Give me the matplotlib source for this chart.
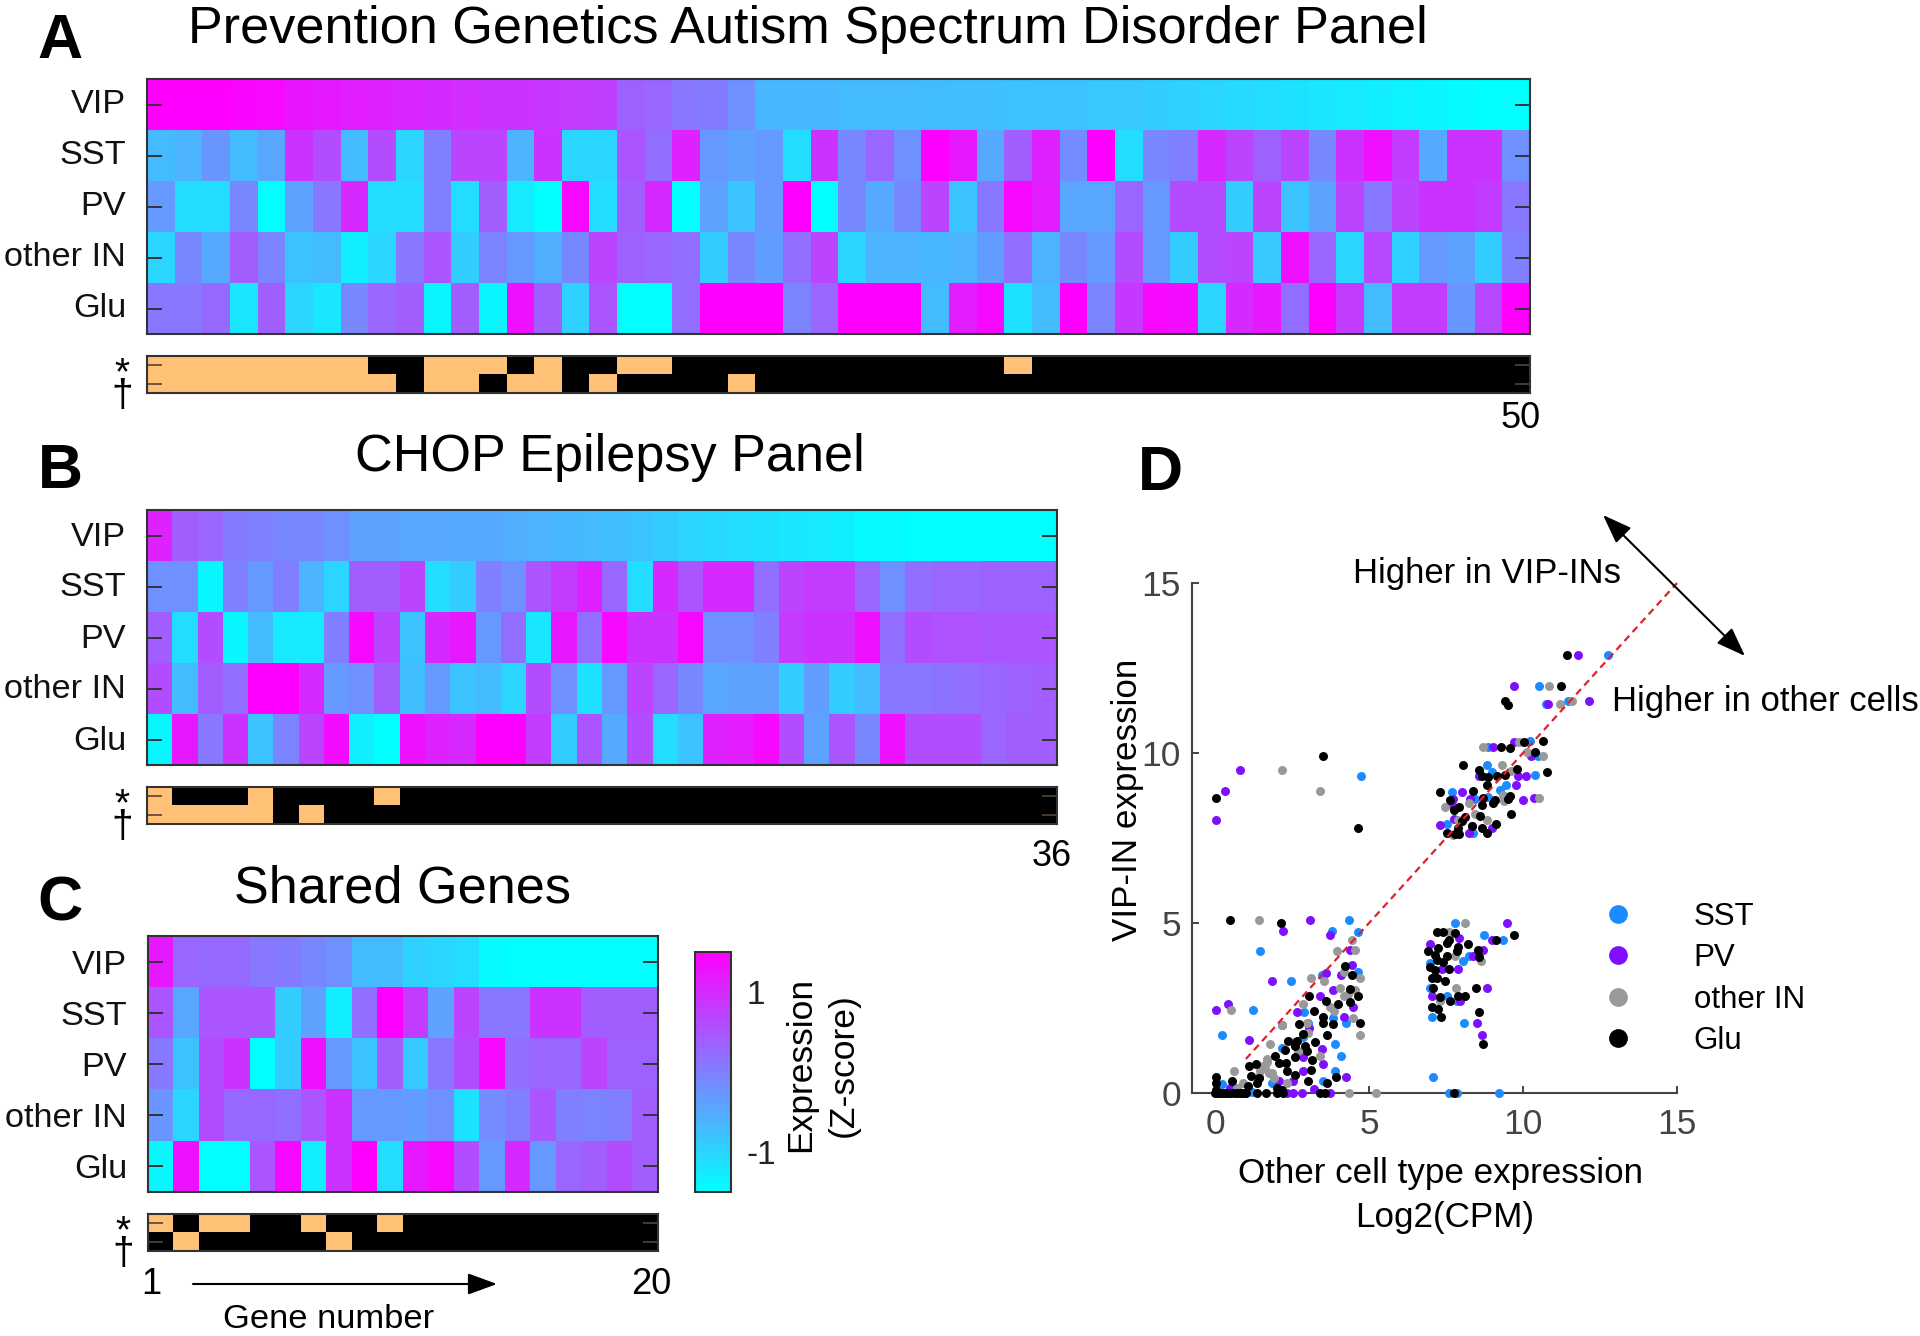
import matplotlib
matplotlib.use("Agg")
import matplotlib.pyplot as plt
from matplotlib.colors import ListedColormap
from matplotlib.lines import Line2D
from matplotlib.transforms import ScaledTranslation
import numpy as np

plt.rcParams['font.family'] = ['Liberation Sans', 'DejaVu Sans']

W, H = 1920, 1336
ROWS = ['VIP', 'SST', 'PV', 'other IN', 'Glu']
FLAGS = ['*', '†']

# ---------- Panel A ----------
A_VIP = [1.5,1.5,1.5,1.45,1.4,1.25,1.2,1.15,1.1,1.05,1.0,0.95,0.9,0.9,0.85,0.8,0.75,0.35,0.3,0.1,0.05,-0.2,
         -0.65,-0.65,-0.65,-0.7,-0.7,-0.7,-0.72,-0.75,-0.75,-0.78,-0.8,-0.8,-0.85,-0.85,-0.9,-0.95,-1.0,-1.05,
         -1.1,-1.15,-1.2,-1.25,-1.3,-1.35,-1.4,-1.45,-1.5,-1.5]
A_SST = [-0.7,-0.6,-0.25,-0.7,-0.45,0.9,0.6,-0.7,0.6,-1.0,0.0,0.7,0.7,-0.6,0.9,-1.0,-1.0,0.5,0.2,1.1,-0.3,-0.4,-0.3,
         -1.1,0.9,-0.1,0.3,-0.2,1.5,1.2,-0.5,0.4,1.1,-0.15,1.5,-1.1,-0.1,0.0,1.0,0.7,0.35,0.7,-0.1,0.9,1.3,0.8,-0.5,0.9,0.9,-0.2]
A_PV = [-0.3,-1.1,-1.1,-0.1,-1.5,-0.4,0.1,1.0,-1.1,-1.1,0.0,-1.1,0.4,-1.25,-1.5,1.4,-1.1,0.4,1.0,-1.5,-0.4,-0.8,-0.3,1.5,
        -1.5,-0.1,-0.5,-0.1,0.7,-0.8,0.1,1.4,1.15,-0.45,-0.45,0.3,-0.3,0.6,0.6,-0.9,0.7,-0.8,-0.4,0.7,0.1,0.7,0.9,0.9,0.8,0.1]
A_OTHER = [-1.0,-0.1,-0.5,0.4,-0.05,-0.8,-0.7,-1.3,-1.0,0.1,0.5,-0.9,-0.05,-0.3,-0.55,-0.1,0.7,0.35,0.3,0.2,-0.9,-0.1,-0.35,0.2,
           0.7,-1.0,-0.6,-0.6,-0.65,-0.6,-0.35,0.2,-0.6,-0.1,-0.3,0.6,-0.3,-0.9,0.6,0.7,-0.85,1.3,0.3,-1.0,0.65,-0.95,-0.3,-0.4,-0.9,0.0]
A_GLU = [0.1,0.1,0.25,-1.2,0.4,-1.0,-1.2,-0.1,0.3,0.4,-1.4,0.4,-1.4,1.3,0.4,-0.95,0.5,-1.5,-1.5,0.2,1.5,1.5,1.5,-0.05,
         0.3,1.5,1.5,1.5,-0.7,1.15,1.4,-1.15,-0.7,1.5,-0.05,0.85,1.4,1.35,-1.0,1.0,1.2,0.2,1.5,0.8,-0.7,0.8,0.8,-0.25,0.65,1.5]
A_STAR = [1,1,1,1,1,1,1,1,0,0,1,1,1,0,1,0,0,1,1,0,0,0,0,0,0,0,0,0,0,0,0,1,0,0,0,0,0,0,0,0,0,0,0,0,0,0,0,0,0,0]
A_DAGGER = [1,1,1,1,1,1,1,1,1,0,1,1,0,1,1,0,1,0,0,0,0,1,0,0,0,0,0,0,0,0,0,0,0,0,0,0,0,0,0,0,0,0,0,0,0,0,0,0,0,0]

# ---------- Panel B ----------
B_VIP = [1.1,0.4,0.3,0.05,0.0,-0.1,-0.1,-0.2,-0.4,-0.4,-0.45,-0.45,-0.5,-0.5,-0.55,-0.6,-0.65,-0.7,-0.75,-0.8,-0.9,-1.0,-1.05,-1.1,
         -1.15,-1.2,-1.25,-1.3,-1.45,-1.45,-1.5,-1.5,-1.5,-1.5,-1.5,-1.5]
B_SST = [-0.2,-0.2,-1.4,0.0,-0.3,0.0,-0.6,-1.0,0.4,0.4,0.7,-1.1,-0.9,0.0,-0.2,0.5,0.8,1.1,0.3,-1.1,1.0,0.5,1.0,1.0,0.2,0.7,0.8,0.8,0.3,-0.2,
         0.2,0.3,0.3,0.35,0.35,0.35]
B_PV = [0.4,-1.1,0.6,-1.4,-0.7,-1.25,-1.25,0.0,1.4,0.7,-0.8,1.0,1.2,-0.3,0.2,-1.2,1.2,0.2,1.4,0.9,0.9,1.4,-0.2,-0.2,0.0,0.8,0.9,0.9,1.3,0.2,
        0.6,0.55,0.55,0.5,0.5,0.5]
B_OTHER = [0.6,-0.7,0.4,0.2,1.5,1.5,1.0,-0.3,-0.2,0.4,-0.75,-0.3,-0.8,-0.7,-1.0,0.6,-0.2,-1.15,-0.3,0.7,0.3,-0.1,-0.45,-0.4,-0.4,-0.9,-0.35,-0.9,-0.7,0.1,
           0.1,0.15,0.2,0.3,0.35,0.4]
B_GLU = [-1.4,1.2,0.1,0.9,-0.8,-0.05,0.7,1.35,-1.3,-1.5,1.3,1.1,1.0,1.5,1.5,0.8,-0.9,0.5,-0.5,0.6,-1.1,-0.8,1.1,1.15,1.4,0.6,-0.4,0.5,-0.1,1.3,
         0.6,0.6,0.6,0.3,0.4,0.4]
B_STAR = [1,0,0,0,1,0,0,0,0,1,0,0,0,0,0,0,0,0,0,0,0,0,0,0,0,0,0,0,0,0,0,0,0,0,0,0]
B_DAGGER = [1,1,1,1,1,0,1,0,0,0,0,0,0,0,0,0,0,0,0,0,0,0,0,0,0,0,0,0,0,0,0,0,0,0,0,0]

# ---------- Panel C ----------
C_VIP = [1.2,0.3,0.25,0.25,0.1,0.05,-0.1,-0.2,-0.7,-0.7,-0.95,-1.0,-1.1,-1.45,-1.5,-1.5,-1.5,-1.5,-1.5,-1.5]
C_SST = [0.5,-0.45,0.5,0.5,0.5,-0.9,-0.4,-1.3,0.2,1.5,0.8,-0.4,0.7,0.1,0.1,0.9,0.9,0.4,0.4,0.4]
C_PV = [0.1,-0.8,0.6,0.9,-1.5,-0.9,1.3,-0.3,-0.8,0.4,-0.85,0.1,0.6,1.4,0.2,0.3,0.3,0.7,0.35,0.35]
C_OTHER = [-0.25,-1.0,0.6,0.25,0.25,0.2,0.5,0.9,-0.3,-0.3,-0.35,-0.2,-1.15,-0.15,0.0,0.5,0.0,-0.05,0.0,0.4]
C_GLU = [-1.4,1.3,-1.5,-1.5,0.5,1.4,-1.3,0.9,1.5,-1.1,1.2,1.4,0.6,-0.3,1.0,-0.3,0.3,0.4,0.6,0.4]
C_STAR = [1,0,1,1,0,0,1,0,0,1,0,0,0,0,0,0,0,0,0,0]
C_DAGGER = [0,1,0,0,0,0,0,1,0,0,0,0,0,0,0,0,0,0,0,0]

# ---------- Panel D ----------
SST_X = [12.76,10.53,10.75,11.47,4.74,10.23,8.87,10.47,8.84,9.0,10.38,9.44,7.7,8.44,9.25,8.87,7.52,8.37,
         4.35,3.81,4.63,1.47,2.46,4.65,3.46,1.22,2.89,0.24,4.24,3.03,3.82,3.89,4.09,3.9,3.5,0.22,2.17,2.87,1.41,1.84,1.19,
         7.79,8.73,9.34,8.26,8.06,6.98,6.98,7.52,7.85,7.06,8.07,7.09,7.58,7.85,9.23]
SST_Y = [12.89,11.96,11.43,11.54,9.32,10.36,10.17,9.9,9.64,9.45,9.34,9.07,8.86,8.66,8.9,8.7,7.92,7.64,
         5.1,4.77,4.75,4.19,3.29,3.55,3.47,2.43,2.37,1.71,2.05,2.05,2.2,1.44,1.09,0.66,0.34,0.27,1.32,1.66,0.48,0.29,0.04,
         4.99,4.65,4.5,4.03,3.89,3.81,3.08,2.85,2.72,2.25,2.05,0.46,0.0,0.0,0.0]
PV_X = [11.8,9.72,10.82,12.14,0.81,0.32,0.02,9.72,10.25,9.04,8.57,9.83,10.09,9.76,8.03,7.74,9.99,10.34,8.28,7.68,7.77,7.31,8.98,8.33,8.23,
        2.22,3.07,3.73,4.38,4.46,3.59,4.09,1.86,3.82,3.41,4.49,0.43,0.02,2.65,1.1,4.17,2.17,3.06,3.46,2.87,3.52,2.84,2.54,2.06,4.24,3.2,2.33,2.54,2.81,3.73,0.49,
        6.98,7.93,9.47,8.98,8.69,8.39,7.9,7.36,8.82,7.04,7.96,8.5,8.68]
PV_Y = [12.89,11.96,11.43,11.54,9.51,8.88,8.04,10.31,9.9,10.17,9.31,9.33,9.33,9.06,8.86,8.66,8.61,8.68,8.66,8.48,8.06,7.87,7.78,7.84,7.64,
        4.77,5.1,4.65,4.21,3.77,3.52,3.47,3.29,3.03,2.85,2.54,2.62,2.43,2.37,1.55,2.23,2.0,1.9,1.29,1.07,0.85,0.66,0.34,0.36,0.46,0.11,0.0,0.0,0.0,0.0,0.14,
        4.37,4.55,4.99,4.5,4.21,4.03,3.64,3.64,3.08,2.85,2.72,2.05,1.71]
OTHER_X = [10.84,11.2,11.6,2.17,3.41,8.71,9.88,10.12,10.66,9.31,9.6,10.52,9.34,9.38,7.45,8.26,8.44,8.82,7.9,7.74,
           1.44,4.44,3.95,4.55,4.17,4.71,3.12,3.54,4.06,4.55,4.17,2.84,3.73,0.51,2.17,2.98,4.49,3.03,4.71,1.79,3.41,1.68,1.62,1.84,0.6,0.92,2.33,0.7,4.36,5.23,
           1.55,1.75,1.9,1.45,1.7,2.55,2.7,3.85,4.3,
           8.1,7.61,7.52,7.79,8.64,7.82,7.31]
OTHER_Y = [11.96,11.43,11.54,9.51,8.88,10.17,10.31,10.02,9.92,9.64,9.47,8.68,8.77,8.6,8.4,8.53,8.21,8.04,8.04,7.59,
           5.1,4.5,4.19,4.22,3.57,3.37,3.38,3.28,3.1,3.03,2.85,2.62,2.54,2.43,2.0,2.05,2.2,1.76,1.71,1.44,1.09,0.92,0.73,0.58,0.66,0.29,0.29,0.14,0.0,0.0,
           0.8,0.6,0.45,0.65,1.0,1.5,1.25,2.4,2.9,
           4.99,4.75,4.4,4.03,3.89,3.08,2.72]
GLU_X = [11.44,11.23,9.42,9.52,10.64,10.39,10.04,9.58,9.28,3.52,8.04,8.58,9.82,10.79,8.66,8.87,9.15,9.42,8.82,8.36,7.31,0.02,7.63,8.71,9.58,9.52,9.09,9.04,8.68,7.93,7.76,8.6,9.61,8.12,8.01,9.11,8.33,4.63,8.66,8.82,7.9,7.54,7.79,7.93,
         0.48,2.14,4.22,4.44,4.38,3.06,4.63,3.98,4.38,3.21,3.59,3.5,2.74,3.52,3.84,4.69,3.63,2.85,2.36,2.65,3.25,2.6,2.92,2.27,2.98,1.95,2.6,3.14,2.06,2.31,1.33,1.1,2.33,3.12,1.16,2.6,1.44,0.02,3.92,0.54,3.03,0.02,3.65,1.08,1.35,2.0,2.17,0.02,
         0.0,0.1,0.2,0.3,0.4,0.5,0.6,0.7,0.8,0.9,1.0,1.35,1.66,2.0,2.22,3.41,3.57,
         7.2,7.41,7.79,7.58,7.52,8.2,7.9,7.25,8.55,6.93,7.85,7.14,7.52,8.57,7.2,7.41,6.98,7.58,7.14,7.04,7.2,7.47,7.09,8.46,7.31,7.9,8.1,7.63,7.04,7.25,8.58,7.34,8.71,9.11,9.72,7.76]
GLU_Y = [12.89,11.96,11.54,11.42,10.35,10.02,10.32,10.16,10.17,9.92,9.64,9.51,9.53,9.44,9.31,9.29,9.31,9.34,9.07,8.88,8.86,8.68,8.62,8.67,8.74,8.66,8.62,8.53,8.46,8.41,8.33,8.16,8.21,8.13,7.99,7.91,7.84,7.79,7.78,7.66,7.79,7.64,7.62,7.62,
         5.1,4.99,3.75,3.47,3.05,2.85,2.85,2.62,2.69,2.42,2.72,2.25,2.02,2.05,2.03,2.05,1.71,1.74,1.54,1.54,1.49,1.37,1.39,1.27,1.25,1.09,1.07,0.97,0.89,0.88,0.86,0.78,0.65,0.68,0.51,0.53,0.43,0.48,0.46,0.34,0.34,0.29,0.29,0.22,0.29,0.14,0.09,0.09,
         0,0,0,0,0,0,0,0,0,0,0,0,0,0,0,0,0,
         4.75,4.75,4.7,4.5,4.4,4.37,4.3,4.26,4.21,4.18,4.19,4.06,4.03,4.01,3.91,3.86,3.72,3.64,3.62,3.37,3.37,3.28,3.1,3.08,2.81,2.85,2.85,2.72,2.52,2.46,2.37,2.25,1.44,4.5,4.65,0.0]
TREND = [1, 15]
X_TICKS = [0, 5, 10, 15]
Y_TICKS = [0, 5, 10, 15]
LEGEND_LABELS = ['SST', 'PV', 'other IN', 'Glu']
COLORS = ['#1a8cff', '#7f0fff', '#999999', '#000000']
ORANGE = '#FFC175'
DARK = '#333333'

fig = plt.figure(figsize=(W / 100, H / 100), dpi=100, facecolor='white')


def add_px(l, t, r, b):
    return fig.add_axes([l / W, 1 - b / H, (r - l) / W, (b - t) / H])


def ptext(x, y, s, **kw):
    kw.setdefault('ha', 'center')
    kw.setdefault('va', 'center')
    return fig.text(x / W, 1 - y / H, s, **kw)


def style(ax):
    for sp in ax.spines.values():
        sp.set_linewidth(1.5)
        sp.set_color(DARK)


def heat(l, r, t, b, st, sb, rows, star, dagger, label_dy):
    ax = add_px(l, t, r, b)
    im = ax.imshow(np.array(rows), cmap='cool', vmin=-1.5, vmax=1.5, aspect='auto', interpolation='nearest')
    ax.set_xticks([])
    ax.set_yticks(range(5))
    ax.set_yticklabels(ROWS, fontsize=24.7, color='#111111')
    ax.tick_params(axis='y', direction='in', length=11, width=1.4, color=DARK, left=True, right=True, pad=15)
    off = ScaledTranslation(0, label_dy * 0.72 / 72, fig.dpi_scale_trans)
    for lab in ax.get_yticklabels():
        lab.set_transform(lab.get_transform() + off)
    style(ax)
    bx = add_px(l, st, r, sb)
    bx.imshow(np.array([star, dagger]), cmap=ListedColormap(['black', ORANGE]), vmin=0, vmax=1,
              aspect='auto', interpolation='nearest')
    bx.set_xticks([])
    bx.set_yticks([0, 1])
    bx.set_yticklabels([])
    bx.tick_params(axis='y', direction='in', length=11, width=1.2, color='#554433', left=True, right=True)
    style(bx)
    ptext(l - 25, st + 29, '\n'.join(FLAGS), fontsize=28, linespacing=0.49)
    return ax, im


_, im = heat(147, 1530, 79, 334, 356, 393, [A_VIP, A_SST, A_PV, A_OTHER, A_GLU], A_STAR, A_DAGGER, 3.5)
heat(147, 1057, 510, 765, 787, 824, [B_VIP, B_SST, B_PV, B_OTHER, B_GLU], B_STAR, B_DAGGER, 2)
heat(148, 658, 936, 1192, 1214, 1251, [C_VIP, C_SST, C_PV, C_OTHER, C_GLU], C_STAR, C_DAGGER, 0)

# colorbar
cax = add_px(695, 952, 731, 1192)
cb = fig.colorbar(im, cax=cax, ticks=[-1, 1])
cb.set_ticklabels(['-1', '1'])
cb.ax.tick_params(length=0, labelsize=24, pad=11, labelcolor='#222222')
cb.outline.set_linewidth(1.5)
cb.outline.set_edgecolor(DARK)
ptext(822, 1065, 'Expression\n(Z-score)', rotation=90, fontsize=25.5, linespacing=1.35, multialignment='center')

# titles and panel letters
ptext(808, 29, 'Prevention Genetics Autism Spectrum Disorder Panel', fontsize=37.6)
ptext(610, 458, 'CHOP Epilepsy Panel', fontsize=37.6)
ptext(402, 889, 'Shared Genes', fontsize=37.6)
for (x, y, s) in [(60, 42, 'A'), (60, 471, 'B'), (60, 904, 'C'), (1160, 473, 'D')]:
    ptext(x, y, s, fontsize=45, fontweight='bold')

# end labels
ptext(1521, 418, '50', fontsize=26)
ptext(1052, 856, '36', fontsize=26)
ptext(151, 1285, '1', fontsize=26)
ptext(651, 1285, '20', fontsize=26)
ptext(329, 1319, 'Gene number', fontsize=24.8)


def farrow(x0, y0, x1, y1, style_, ms):
    fig.add_artist(matplotlib.patches.FancyArrowPatch(
        (x0 / W, 1 - y0 / H), (x1 / W, 1 - y1 / H), transform=fig.transFigure,
        arrowstyle=style_, mutation_scale=ms, color='black', lw=1.5, shrinkA=0, shrinkB=0))


farrow(193, 1284, 497, 1284, '-|>,head_length=0.82,head_width=0.3', 22)
farrow(1603, 515, 1745, 656, '<|-|>,head_length=0.9,head_width=0.33', 20)

# Panel D
ax = add_px(1192, 583, 1677, 1093)
ax.set_xlim(-0.75, 15)
ax.set_ylim(0, 15)
ax.patch.set_alpha(0)
for x, y, c in zip([SST_X, PV_X, OTHER_X, GLU_X], [SST_Y, PV_Y, OTHER_Y, GLU_Y], COLORS):
    ax.scatter(x, y, s=42, c=c, linewidths=0, clip_on=False, zorder=3)
ax.plot(TREND, TREND, color='#e0202a', lw=1.6, dashes=(3.2, 2.2), zorder=4, clip_on=False)
ax.spines['top'].set_visible(False)
ax.spines['right'].set_visible(False)
for s in ['left', 'bottom']:
    ax.spines[s].set_linewidth(1.5)
    ax.spines[s].set_color('#444444')
ax.set_xticks(X_TICKS)
ax.set_yticks(Y_TICKS)
ax.tick_params(direction='in', length=5, width=1.4, color='#444444', labelsize=25.5, labelcolor='#444444')
ax.tick_params(axis='x', pad=11)
ax.tick_params(axis='y', pad=8)

handles = [Line2D([], [], ls='', marker='o', ms=13.5, mfc=c, mec='none') for c in COLORS]
fig.legend(handles, LEGEND_LABELS, loc='upper left', bbox_to_anchor=(1595 / W, 1 - 902 / H), frameon=False,
           fontsize=22.5, labelspacing=0.36, handletextpad=1.66, borderpad=0, borderaxespad=0, handlelength=1.5)

ptext(1127, 800, 'VIP-IN expression', rotation=90, fontsize=25.2)
ptext(1440, 1173, 'Other cell type expression', fontsize=25.2)
ptext(1445, 1218, 'Log2(CPM)', fontsize=25.2)
ptext(1487, 574, 'Higher in VIP-INs', fontsize=24.9)
ptext(1765, 701, 'Higher in other cells', fontsize=24.9)

fig.savefig('out.png', dpi=100, facecolor='white')
